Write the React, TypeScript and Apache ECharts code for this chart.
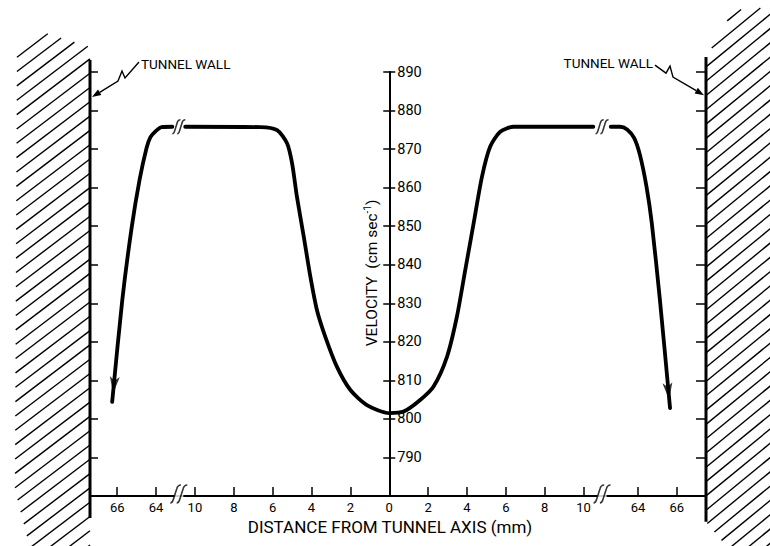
import React, { useEffect, useRef } from 'react';
import * as echarts from 'echarts';

// ---- Data: distance from tunnel axis (mm, negative = left of axis) and velocity (cm/s)
const leftOuterMm = [-66.26, -65.74, -65.26, -64.85, -64.49, -64.29, -64.03, -63.72, -63.16];
const leftOuterVel = [804.4, 830.8, 849.5, 862.0, 870.3, 873.1, 874.6, 875.7, 875.8];
const innerMm = [-10.5, -6.63, -5.77, -5.26, -5.0, -4.75, -4.4, -4.06, -3.72, -3.29, -2.69, -2.0, -1.15, 0, 0.74, 1.59, 2.28, 2.97, 3.48, 3.91, 4.34, 4.77, 5.19, 5.71, 6.4, 10.5];
const innerVel = [875.8, 875.7, 874.9, 871.5, 866.3, 857.6, 847.3, 836.9, 828.2, 821.3, 813.5, 807.5, 803.6, 801.5, 801.9, 804.9, 808.4, 816.1, 826.5, 838.6, 850.7, 862.8, 870.6, 874.5, 875.8, 875.8];
const rightOuterMm = [62.6, 63.08, 63.44, 63.8, 64.1, 64.44, 64.71, 65.13, 65.65];
const rightOuterVel = [875.8, 875.8, 875.1, 872.9, 868.5, 860.2, 850.8, 830.8, 802.8];

// Axis ticks / labels (mm)
const xTickMm = [-66, -64, -10, -8, -6, -4, -2, 2, 4, 6, 8, 10, 64, 66];
const xLabelMm = [-66, -64, -10, -8, -6, -4, -2, 0, 2, 4, 6, 8, 10, 64, 66];
const Y_MIN = 780;
const Y_MAX = 890;
const Y_STEP = 10;

// Tunnel walls (mm) and their vertical extent (cm/s units)
const LEFT_WALL_MM = -67.4;
const RIGHT_WALL_MM = 67.5;
const leftWallVel = [893.1, 774.3];
const rightWallVel = [893.9, 773.3];
const wallLabelVel = [883.5, 884];

// Broken axis mapping (mm -> axis units)
const INNER_LIMIT = 30;
const LEFT_SHIFT = 52;
const RIGHT_SHIFT = 51.2;
const toU = (mm: number) => (Math.abs(mm) < INNER_LIMIT ? mm : mm < 0 ? mm + LEFT_SHIFT : mm - RIGHT_SHIFT);
const fromU = (u: number) => (Math.abs(u) <= 10.6 ? Math.abs(u) : u < 0 ? LEFT_SHIFT - u : u + RIGHT_SHIFT);

const U_MIN = toU(LEFT_WALL_MM);
const U_MAX = toU(RIGHT_WALL_MM);

// layout
const W = 770;
const H = 546;
const GRID = { left: 90, right: 64, top: 72, bottom: 50 };
const CENTER_OFFSET = ((0 - U_MIN) / (U_MAX - U_MIN)) * (W - GRID.left - GRID.right);

const pts = (xs: number[], ys: number[]) => xs.map((x, i) => [toU(x), ys[i]]);
const leftBreakU = (toU(leftOuterMm[leftOuterMm.length - 1]) + toU(innerMm[0])) / 2;
const rightBreakU = (toU(innerMm[innerMm.length - 1]) + toU(rightOuterMm[0])) / 2;
const flatVel = innerVel[0];

const BREAK_PATH =
  'path://M2 19 C4 19 4.5 17 5 15 L8 5 C8.6 2.5 10 1 12 1 M8 19 C10 19 10.5 17 11 15 L14 5 C14.6 2.5 16 1 18 1';

const FONT = 'Roboto, "DejaVu Sans", sans-serif';
const WEIGHT = 'normal';

function clipLine(p0: number[], d: number[], poly: number[][]) {
  let tE = -1e4;
  let tL = 1e4;
  const n = poly.length;
  let cx = 0;
  let cy = 0;
  poly.forEach((p) => {
    cx += p[0];
    cy += p[1];
  });
  cx /= n;
  cy /= n;
  for (let i = 0; i < n; i++) {
    const a = poly[i];
    const b = poly[(i + 1) % n];
    let nx = -(b[1] - a[1]);
    let ny = b[0] - a[0];
    if (nx * (cx - a[0]) + ny * (cy - a[1]) < 0) {
      nx = -nx;
      ny = -ny;
    }
    const num = nx * (p0[0] - a[0]) + ny * (p0[1] - a[1]);
    const den = nx * d[0] + ny * d[1];
    if (Math.abs(den) < 1e-9) {
      if (num < 0) return null;
      continue;
    }
    const t = -num / den;
    if (den > 0) tE = Math.max(tE, t);
    else tL = Math.min(tL, t);
  }
  if (tE >= tL) return null;
  return [
    [p0[0] + d[0] * tE, p0[1] + d[1] * tE],
    [p0[0] + d[0] * tL, p0[1] + d[1] * tL],
  ];
}

function arrowHead(from: number[], tip: number[], len: number, half: number) {
  const dx = tip[0] - from[0];
  const dy = tip[1] - from[1];
  const L = Math.hypot(dx, dy);
  const ux = dx / L;
  const uy = dy / L;
  const bx = tip[0] - ux * len;
  const by = tip[1] - uy * len;
  return {
    base: [bx, by],
    poly: [tip, [bx - uy * half, by + ux * half], [bx + uy * half, by - ux * half]],
  };
}

function renderDecor(params: any, api: any) {
  const children: any[] = [];
  const [xl, base] = api.coord([U_MIN, Y_MIN]);
  const [xr] = api.coord([U_MAX, Y_MIN]);
  const hatchStyle = { stroke: '#000', lineWidth: 1.4 };

  // left hatch
  const leftPoly = [
    [xl, base - 449],
    [xl - 48, base - 464],
    [xl - 73, base - 441],
    [xl - 75, base - 6],
    [xl - 60, base + 52],
    [xl, base + 52],
  ];
  for (let k = -45; k < 20; k++) {
    const y0 = base - 51 + 14.3 * k;
    const seg = clipLine([xl, y0], [-1, 0.76], leftPoly);
    if (seg) children.push({ type: 'line', shape: { x1: seg[0][0], y1: seg[0][1], x2: seg[1][0], y2: seg[1][1] }, style: hatchStyle });
  }
  // right hatch
  const rightPoly = [
    [xr, base - 431],
    [xr + 9, base - 458],
    [xr + 29, base - 486],
    [xr + 80, base - 490],
    [xr + 80, base + 52],
    [xr + 22, base + 52],
    [xr, base + 26],
  ];
  for (let k = -45; k < 40; k++) {
    const y0 = base - 186 + 14.3 * k;
    const seg = clipLine([xr, y0], [1, -0.82], rightPoly);
    if (seg) children.push({ type: 'line', shape: { x1: seg[0][0], y1: seg[0][1], x2: seg[1][0], y2: seg[1][1] }, style: hatchStyle });
  }

  // walls
  const lt = api.coord([U_MIN, leftWallVel[0]]);
  const lb = api.coord([U_MIN, leftWallVel[1]]);
  const rt = api.coord([U_MAX, rightWallVel[0]]);
  const rb = api.coord([U_MAX, rightWallVel[1]]);
  children.push({ type: 'line', shape: { x1: lt[0], y1: lt[1], x2: lb[0], y2: lb[1] }, style: { stroke: '#000', lineWidth: 3 } });
  children.push({ type: 'line', shape: { x1: rt[0], y1: rt[1], x2: rb[0], y2: rb[1] }, style: { stroke: '#000', lineWidth: 3 } });

  // wall labels with leaders
  const ltip = api.coord([U_MIN, wallLabelVel[0]]);
  ltip[0] += 2;
  const lPts = [
    [ltip[0] + 47, ltip[1] - 35],
    [ltip[0] + 33, ltip[1] - 19],
    [ltip[0] + 30, ltip[1] - 26],
    [ltip[0] + 26, ltip[1] - 16],
  ];
  const lHead = arrowHead(lPts[3], ltip, 9, 3.2);
  children.push({ type: 'polyline', shape: { points: [...lPts, lHead.base] }, style: { stroke: '#000', lineWidth: 1.4, fill: 'none' } });
  children.push({ type: 'polygon', shape: { points: lHead.poly }, style: { fill: '#000' } });
  children.push({
    type: 'text',
    x: ltip[0] + 49,
    y: ltip[1] - 33,
    style: { text: 'TUNNEL WALL', fill: '#000', font: `${WEIGHT} 13.5px ${FONT}`, textAlign: 'left', textVerticalAlign: 'middle' },
  });

  const rtip = api.coord([U_MAX, wallLabelVel[1]]);
  rtip[0] -= 2;
  const rPts = [
    [rtip[0] - 49, rtip[1] - 30],
    [rtip[0] - 38, rtip[1] - 22],
    [rtip[0] - 34, rtip[1] - 29],
    [rtip[0] - 31, rtip[1] - 18],
  ];
  const rHead = arrowHead(rPts[3], rtip, 9, 3.2);
  children.push({ type: 'polyline', shape: { points: [...rPts, rHead.base] }, style: { stroke: '#000', lineWidth: 1.4, fill: 'none' } });
  children.push({ type: 'polygon', shape: { points: rHead.poly }, style: { fill: '#000' } });
  children.push({
    type: 'text',
    x: rtip[0] - 51,
    y: rtip[1] - 32,
    style: { text: 'TUNNEL WALL', fill: '#000', font: `${WEIGHT} 13.5px ${FONT}`, textAlign: 'right', textVerticalAlign: 'middle' },
  });

  return { type: 'group', children };
}

const yBase: any = {
  type: 'value',
  min: Y_MIN,
  max: Y_MAX,
  interval: Y_STEP,
  splitLine: { show: false },
  axisLabel: { show: false },
};

const curveStyle = { color: '#000', width: 3.8, cap: 'round', join: 'round' };

const option: any = {
  animation: false,
  backgroundColor: '#fff',
  grid: { ...GRID, outerBoundsMode: 'none' },
  xAxis: {
    type: 'value',
    min: U_MIN,
    max: U_MAX,
    splitLine: { show: false },
    axisLine: { onZero: false, lineStyle: { color: '#000', width: 2 } },
    axisTick: { show: true, inside: true, length: 9, customValues: xTickMm.map(toU), lineStyle: { color: '#000', width: 1.5 } },
    axisLabel: {
      customValues: xLabelMm.map(toU),
      formatter: (v: number) => String(Math.round(fromU(v))),
      color: '#000',
      fontSize: 13,
      fontWeight: WEIGHT,
      fontFamily: FONT,
      margin: 5,
    },
    name: 'DISTANCE FROM TUNNEL AXIS (mm)',
    nameLocation: 'middle',
    nameGap: 19,
    nameTextStyle: { color: '#000', fontSize: 17, fontWeight: WEIGHT, fontFamily: FONT, padding: [0, 16, 0, 0] },
  },
  yAxis: [
    {
      ...yBase,
      position: 'left',
      axisLine: { show: false, onZero: false },
      axisTick: { show: true, inside: true, length: 8, lineStyle: { color: '#000', width: 1.5 } },
    },
    {
      ...yBase,
      position: 'right',
      axisLine: { show: false, onZero: false },
      axisTick: { show: true, inside: true, length: 10, lineStyle: { color: '#000', width: 1.5 } },
    },
    {
      ...yBase,
      position: 'left',
      offset: -CENTER_OFFSET,
      axisLine: { show: true, onZero: false, lineStyle: { color: '#000', width: 2 } },
      axisTick: { show: true, inside: true, length: 6, lineStyle: { color: '#000', width: 1.5 } },
      axisLabel: {
        show: true,
        inside: true,
        margin: 8,
        color: '#000',
        fontSize: 14.5,
        fontWeight: WEIGHT,
        fontFamily: FONT,
        formatter: (v: number) => (v === Y_MIN ? '' : String(v)),
      },
    },
    {
      ...yBase,
      position: 'left',
      offset: -CENTER_OFFSET,
      axisLine: { show: true, onZero: false, lineStyle: { color: '#000', width: 2 } },
      axisTick: { show: true, inside: false, length: 6, lineStyle: { color: '#000', width: 1.5 } },
      name: '{a|VELOCITY  (cm sec}{s|-1}{a|)}',
      nameLocation: 'middle',
      nameRotate: 90,
      nameGap: 8,
      nameTextStyle: {
        color: '#000',
        fontFamily: FONT,
        fontSize: 15,
        padding: [0, 0, 0, 22],
        rich: {
          a: { fontSize: 15.5, fontWeight: WEIGHT, fontFamily: FONT, color: '#000', lineHeight: 19 },
          s: { fontSize: 10, fontWeight: WEIGHT, fontFamily: FONT, color: '#000', lineHeight: 19, verticalAlign: 'top' },
        },
      },
    },
  ],
  series: [
    {
      type: 'custom',
      renderItem: renderDecor,
      data: [[0, 800]],
      clip: false,
      silent: true,
      z: 1,
    },
    { type: 'line', data: pts(leftOuterMm, leftOuterVel), showSymbol: false, symbol: 'none', smooth: 0.25, lineStyle: curveStyle, silent: true, z: 3 },
    { type: 'line', data: pts(innerMm, innerVel), showSymbol: false, symbol: 'none', smooth: 0.25, lineStyle: curveStyle, silent: true, z: 3 },
    { type: 'line', data: pts(rightOuterMm, rightOuterVel), showSymbol: false, symbol: 'none', smooth: 0.25, lineStyle: curveStyle, silent: true, z: 3 },
    // arrowheads at the curve ends
    {
      type: 'scatter',
      data: [[toU(leftOuterMm[0]), leftOuterVel[0]]],
      symbol: 'arrow',
      symbolSize: [7.5, 17],
      symbolRotate: 174,
      symbolOffset: [0.9, -8.5],
      itemStyle: { color: '#000' },
      silent: true,
      z: 4,
    },
    {
      type: 'scatter',
      data: [[toU(rightOuterMm[rightOuterMm.length - 1]), rightOuterVel[rightOuterVel.length - 1]]],
      symbol: 'arrow',
      symbolSize: [7.5, 17],
      symbolRotate: 186,
      symbolOffset: [-0.9, -8.5],
      itemStyle: { color: '#000' },
      silent: true,
      z: 4,
    },
    // white gaps in the x axis at the breaks
    {
      type: 'scatter',
      data: [[leftBreakU, Y_MIN], [rightBreakU, Y_MIN]],
      symbol: 'rect',
      symbolSize: [9, 5],
      itemStyle: { color: '#fff' },
      silent: true,
      z: 4,
    },
    // break marks on the x axis
    {
      type: 'scatter',
      data: [[leftBreakU, Y_MIN], [rightBreakU, Y_MIN]],
      symbol: BREAK_PATH,
      symbolSize: [17, 18],
      symbolOffset: [0, -2],
      itemStyle: { color: 'none', borderColor: '#000', borderWidth: 1.6 },
      silent: true,
      z: 5,
    },
    // break marks on the curve
    {
      type: 'scatter',
      data: [[leftBreakU, flatVel], [rightBreakU, flatVel]],
      symbol: BREAK_PATH,
      symbolSize: [13, 14],
      itemStyle: { color: 'none', borderColor: '#000', borderWidth: 1.6 },
      silent: true,
      z: 5,
    },
  ],
};

export default function App() {
  const ref = useRef<HTMLDivElement>(null);
  useEffect(() => {
    document.body.style.margin = '0';
    const chart = echarts.init(ref.current!, null, { renderer: 'svg' });
    chart.setOption(option);
    return () => chart.dispose();
  }, []);
  return <div ref={ref} style={{ width: W, height: H, background: '#fff' }} />;
}
